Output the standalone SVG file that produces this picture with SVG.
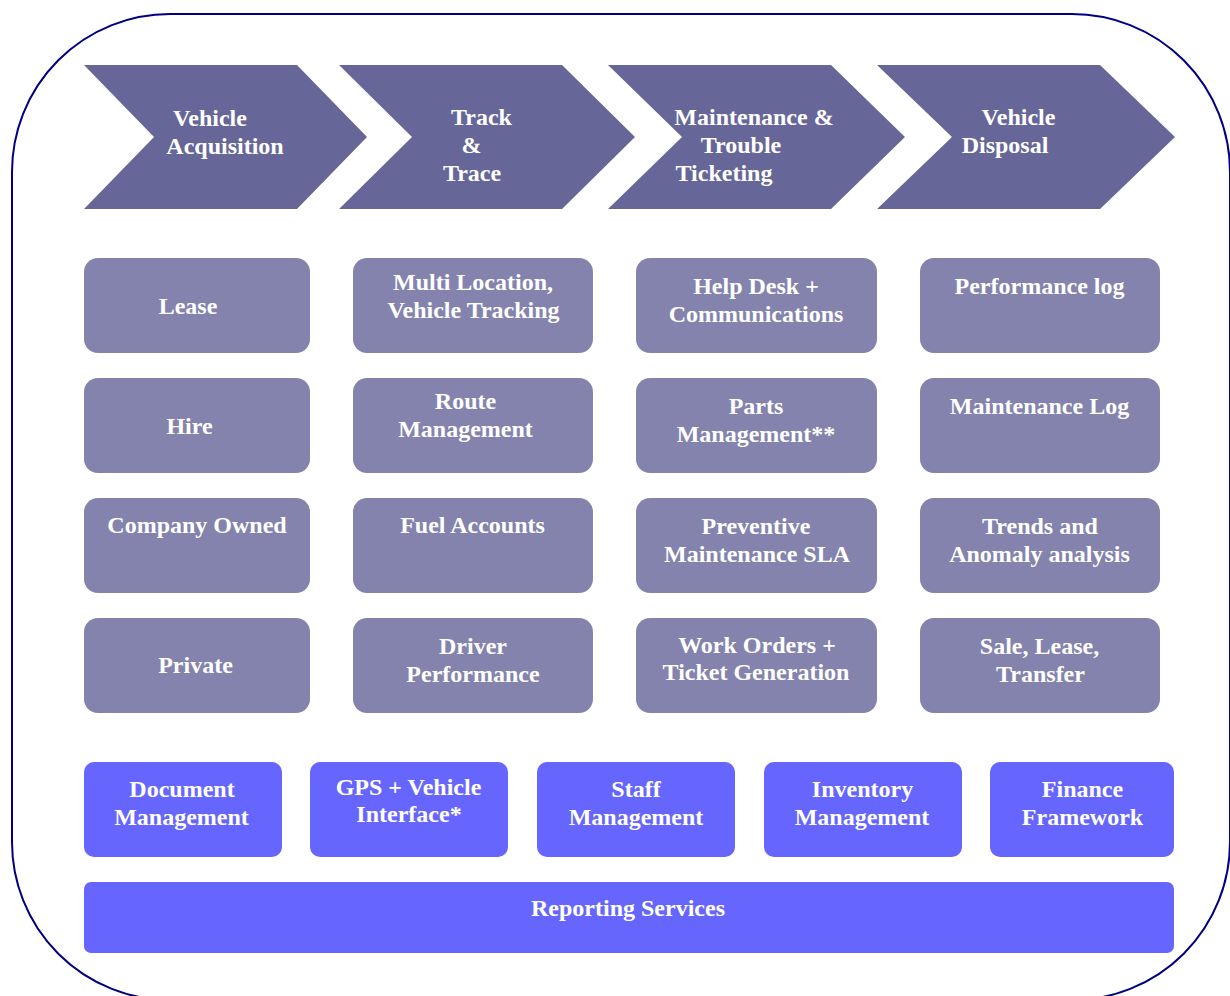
<svg xmlns="http://www.w3.org/2000/svg" width="1230" height="996" viewBox="0 0 1230 996" font-family="'Liberation Serif', Tinos, 'Times New Roman', 'DejaVu Serif', serif">
<style>
.chev{fill:#666699}
.box{fill:#8383AD}
.base{fill:#6666FF}
text{font-family:'Liberation Serif', Tinos, 'Times New Roman', 'DejaVu Serif', serif;font-weight:bold;font-size:24px;fill:#FFFFFF;text-anchor:middle}
</style>
<rect id="frame" x="12" y="14" width="1218" height="986" rx="158" ry="158" fill="none" stroke="#000080" stroke-width="2"/>
<g id="connectors"/>
<g id="chev1"><path class="chev" d="M84,65 L297,65 L367,137 L297,209 L84,209 L154,137 Z"/><text x="210" y="126">Vehicle</text><text x="225" y="154">Acquisition</text></g>
<g id="chev2"><path class="chev" d="M339,65 L562,65 L635,137 L562,209 L339,209 L412,137 Z"/><text x="481.5" y="125">Track</text><text x="471.5" y="153">&amp;</text><text x="472" y="181">Trace</text></g>
<g id="chev3"><path class="chev" d="M608,65 L831,65 L905,137 L831,209 L608,209 L682,137 Z"/><text x="754" y="125">Maintenance &amp;</text><text x="741" y="153">Trouble</text><text x="724" y="181">Ticketing</text></g>
<g id="chev4"><path class="chev" d="M877,65 L1100,65 L1175,137 L1100,209 L877,209 L952,137 Z"/><text x="1018.5" y="125">Vehicle</text><text x="1005" y="153">Disposal</text></g>

<g id="lease"><rect class="box" x="84" y="258" width="226" height="95" rx="14"/><text x="188" y="314">Lease</text></g>
<g id="hire"><rect class="box" x="84" y="378" width="226" height="95" rx="14"/><text x="189.5" y="434">Hire</text></g>
<g id="company"><rect class="box" x="84" y="498" width="226" height="95" rx="14"/><text x="197" y="533">Company Owned</text></g>
<g id="private"><rect class="box" x="84" y="618" width="226" height="95" rx="14"/><text x="195.5" y="673">Private</text></g>

<g id="multiloc"><rect class="box" x="353" y="258" width="240" height="95" rx="14"/><text x="473" y="290">Multi Location,</text><text x="473.5" y="318">Vehicle Tracking</text></g>
<g id="route"><rect class="box" x="353" y="378" width="240" height="95" rx="14"/><text x="465.5" y="409">Route</text><text x="465.5" y="437">Management</text></g>
<g id="fuel"><rect class="box" x="353" y="498" width="240" height="95" rx="14"/><text x="472.5" y="533">Fuel Accounts</text></g>
<g id="driver"><rect class="box" x="353" y="618" width="240" height="95" rx="14"/><text x="473" y="654">Driver</text><text x="473" y="682">Performance</text></g>

<g id="helpdesk"><rect class="box" x="636" y="258" width="241" height="95" rx="14"/><text x="756" y="294">Help Desk +</text><text x="756" y="322">Communications</text></g>
<g id="parts"><rect class="box" x="636" y="378" width="241" height="95" rx="14"/><text x="756" y="414">Parts</text><text x="756" y="442">Management**</text></g>
<g id="preventive"><rect class="box" x="636" y="498" width="241" height="95" rx="14"/><text x="756" y="534">Preventive</text><text x="757" y="562">Maintenance SLA</text></g>
<g id="workorders"><rect class="box" x="636" y="618" width="241" height="95" rx="14"/><text x="757" y="653">Work Orders +</text><text x="756" y="680">Ticket Generation</text></g>

<g id="perflog"><rect class="box" x="920" y="258" width="240" height="95" rx="14"/><text x="1039.5" y="294">Performance log</text></g>
<g id="maintlog"><rect class="box" x="920" y="378" width="240" height="95" rx="14"/><text x="1039.5" y="414">Maintenance Log</text></g>
<g id="trends"><rect class="box" x="920" y="498" width="240" height="95" rx="14"/><text x="1040" y="534">Trends and</text><text x="1039.5" y="562">Anomaly analysis</text></g>
<g id="sale"><rect class="box" x="920" y="618" width="240" height="95" rx="14"/><text x="1039.5" y="654">Sale, Lease,</text><text x="1040.5" y="682">Transfer</text></g>

<g id="document"><rect class="base" x="84" y="762" width="198" height="95" rx="10"/><text x="182" y="797">Document</text><text x="181.5" y="825">Management</text></g>
<g id="gps"><rect class="base" x="310" y="762" width="198" height="95" rx="10"/><text x="408.5" y="795">GPS + Vehicle</text><text x="409" y="822">Interface*</text></g>
<g id="staff"><rect class="base" x="537" y="762" width="198" height="95" rx="10"/><text x="636" y="797">Staff</text><text x="636" y="825">Management</text></g>
<g id="inventory"><rect class="base" x="764" y="762" width="198" height="95" rx="10"/><text x="862.5" y="797">Inventory</text><text x="862" y="825">Management</text></g>
<g id="finance"><rect class="base" x="990" y="762" width="184" height="95" rx="10"/><text x="1082.5" y="797">Finance</text><text x="1082.5" y="825">Framework</text></g>
<g id="reporting"><rect class="base" x="84" y="882" width="1090" height="71" rx="7"/><text x="628" y="916">Reporting Services</text></g>
</svg>
